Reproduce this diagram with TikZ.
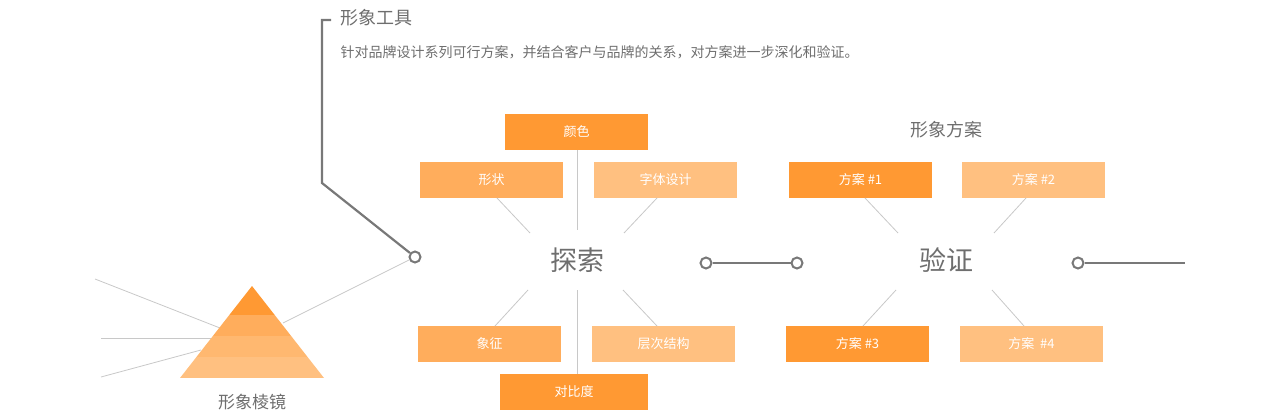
\documentclass[tikz,border=0pt]{standalone}
\usepackage{fontspec}
\setmainfont{Noto Sans CJK SC}
\begin{document}
\begin{tikzpicture}[x=1pt,y=-1pt,
  box/.style={minimum width=143pt,minimum height=36pt,inner sep=0pt,text=white,font=\fontsize{13}{15}\selectfont},
  c1/.style={fill={rgb,255:red,255;green,153;blue,51}},
  c2/.style={fill={rgb,255:red,255;green,173;blue,92}},
  c3/.style={fill={rgb,255:red,255;green,192;blue,128}},
  thin/.style={draw={rgb,255:red,200;green,200;blue,200},line width=0.8pt},
  thick/.style={draw={rgb,255:red,120;green,120;blue,120},line width=2.2pt},
  ring/.style={circle,draw={rgb,255:red,120;green,120;blue,120},line width=2pt,fill=white,minimum size=11pt,inner sep=0pt},
  big/.style={text={rgb,255:red,110;green,110;blue,110},font=\fontsize{27}{30}\selectfont},
  lbl/.style={text={rgb,255:red,110;green,110;blue,110}}]
\useasboundingbox (0,0) rectangle (1280,420);
% pyramid rays
\coordinate (r1) at (95,279); \coordinate (r2) at (101,338); \coordinate (r3) at (101,377);
\coordinate (p1) at (220,328); \coordinate (p2) at (213,338); \coordinate (p3) at (201,350);
\coordinate (p4) at (283,323);
\draw[thin] (r1)--(p1); \draw[thin] (r2)--(p2); \draw[thin] (r3)--(p3);
\begin{scope}
\clip (252,286)--(324,378)--(180,378)--cycle;
\fill[c1] (170,286) rectangle (330,315);
\fill[c2] (170,315) rectangle (330,336);
\fill[fill={rgb,255:red,255;green,184;blue,112}] (170,336) rectangle (330,357);
\fill[c3] (170,357) rectangle (330,378);
\end{scope}
\node[lbl,font=\fontsize{17}{20}\selectfont] (prism) at (252,402) {形象棱镜};
% tool
\node[ring] (o1) at (415,257) {};
\coordinate (e1) at (322,183); \coordinate (e2) at (322,20); \coordinate (e3) at (331,20);
\draw[thin] (p4)--(o1);
\draw[thick] (o1)--(e1)--(e2)--(e3);
\node[lbl,anchor=west,font=\fontsize{18}{20}\selectfont] (tool) at (337,18) {形象工具};
\node[lbl,anchor=west,font=\fontsize{14}{16}\selectfont] (desc) at (337,52) {针对品牌设计系列可行方案，并结合客户与品牌的关系，对方案进一步深化和验证。};
% explore
\node[big] (ex) at (577,260) {探索};
\node[box,c1] (b1) at (576.5,132) {颜色};
\node[box,c2] (b2) at (491.5,180) {形状};
\node[box,c3] (b3) at (665.5,180) {字体设计};
\node[box,c2] (b4) at (489.5,344) {象征};
\node[box,c3] (b5) at (663.5,344) {层次结构};
\node[box,c1,minimum width=148pt] (b6) at (574,392) {对比度};
\draw[thin] (577,150)--(577,230); \draw[thin] (577,290)--(577,374);
\draw[thin] (497,198)--(530,233); \draw[thin] (657,198)--(624,233);
\draw[thin] (528,290)--(495,326); \draw[thin] (623,290)--(657,326);
\node[ring] (o2) at (706,263) {}; \node[ring] (o3) at (797,263) {};
\draw[thick] (o2)--(o3);
% verify
\node[big] (vf) at (946,260) {验证};
\node[lbl,font=\fontsize{18}{20}\selectfont] (plans) at (946,130) {形象方案};
\node[box,c1] (s1) at (860.5,180) {方案 \#1};
\node[box,c3] (s2) at (1033.5,180) {方案 \#2};
\node[box,c1] (s3) at (857.5,344) {方案 \#3};
\node[box,c3] (s4) at (1031.5,344) {方案~ \#4};
\draw[thin] (865,198)--(898,233); \draw[thin] (1026,198)--(994,233);
\draw[thin] (896,290)--(863,326); \draw[thin] (992,290)--(1024,326);
\node[ring] (o4) at (1078,263) {};
\coordinate (end) at (1185,263);
\draw[thick] (o4)--(end);
\end{tikzpicture}
\end{document}
